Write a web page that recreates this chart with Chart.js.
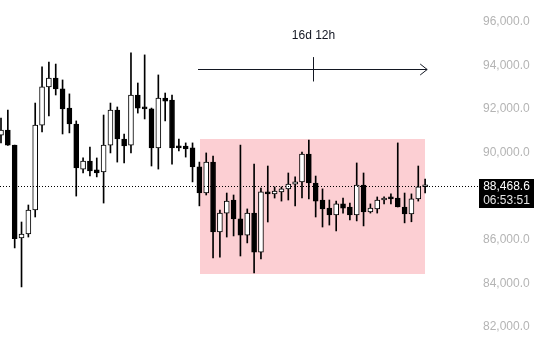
<!DOCTYPE html>
<html><head><meta charset="utf-8">
<script src="https://cdn.jsdelivr.net/npm/chart.js@4/dist/chart.umd.min.js"></script>
<style>html,body{margin:0;padding:0;background:#fff;overflow:hidden}canvas{display:block}</style>
</head><body>
<canvas id="c" width="544" height="342"></canvas>
<script>
const opens  = [90810,91040,90350,86090,86270,87370,91270,93020,93430,92930,92050,91320,89250,89620,89210,89120,90350,91960,90630,90350,92650,92100,92010,90220,92510,92420,90310,90310,90220,89350,88150,89570,86360,87230,87830,86960,86220,87230,85440,88200,88110,88200,88340,88560,88660,89940,88610,87830,87460,87140,87650,87510,87140,88520,87280,87420,87830,87920,87920,87510,87190,87880,88440];
const highs  = [91590,91960,90350,86820,87600,92280,93940,94160,94070,93340,92700,91460,89760,90260,89760,91730,92280,92100,90860,94580,93200,94490,92050,93570,92740,92650,90630,90450,90450,89570,89990,89850,87370,88150,88060,90350,87420,89480,88380,89390,88430,88430,89070,88890,90030,90580,88930,88340,87830,87780,87920,87690,89530,89070,87650,87970,87970,88110,90450,88150,88110,89390,88790];
const lows   = [90450,90340,85630,83840,86130,87050,90950,91690,92650,90860,90910,88010,89070,88930,88890,87690,89990,89570,89530,89990,91820,91550,89390,89250,91460,89480,90080,89800,88660,87560,88060,85170,85210,86130,86180,85260,85860,84480,85120,86820,87920,87780,87830,87560,87920,87880,87050,86590,86680,86410,87230,86910,86870,86640,87230,87230,87650,87650,87510,86780,86830,87780,88150];
const closes = [91040,90350,86050,86270,87370,91270,93020,93430,92930,92010,91320,89300,89620,89160,89070,90350,91960,90630,90310,92650,92050,92010,90220,92510,92370,90220,90220,90170,89350,88150,89570,86360,87230,87780,86960,86220,87230,85440,88200,88110,88240,88340,88560,88660,89940,88610,87780,87420,87140,87650,87460,87140,88520,87280,87460,87830,87880,87880,87510,87190,87880,88440,88468.6];
const yTicks = [82000,84000,86000,88000,90000,92000,94000,96000];
const lastPrice = 88468.6;
const countdown = '06:53:51';
const rangeLabel = '16d 12h';
const rangeBox = {x0:29.1, x1:62.0, top:90630, bottom:84430};
const arrow = {x0:28.8, x1:62.3, y:93830, mid:45.6, tickTop:94390, tickBottom:93270, textY:95380};

const idx = opens.map((_, i) => i);
const isBull = i => closes[i] >= opens[i];
const fmt = v => v.toLocaleString('en-US', {minimumFractionDigits:1, maximumFractionDigits:1});

const overlay = {
  id: 'overlay',
  beforeDatasetsDraw(chart) {
    const {ctx, scales:{x, y}} = chart;
    ctx.save();
    ctx.fillStyle = '#fccfd3';
    const l = x.getPixelForValue(rangeBox.x0), r = x.getPixelForValue(rangeBox.x1);
    const t = y.getPixelForValue(rangeBox.top), b = y.getPixelForValue(rangeBox.bottom);
    ctx.fillRect(Math.round(l), Math.round(t), Math.round(r - l), Math.round(b - t));
    ctx.restore();
  },
  afterDatasetsDraw(chart) {
    const {ctx, chartArea, scales:{x, y}} = chart;
    ctx.save();
    const py = Math.round(y.getPixelForValue(lastPrice)) + 0.5;
    ctx.strokeStyle = '#000';
    ctx.lineWidth = 1;
    ctx.setLineDash([1, 2]);
    ctx.beginPath(); ctx.moveTo(0, py); ctx.lineTo(chartArea.right, py); ctx.stroke();
    ctx.setLineDash([]);
    const ay = Math.round(y.getPixelForValue(arrow.y)) + 0.5;
    const ax0 = x.getPixelForValue(arrow.x0), ax1 = x.getPixelForValue(arrow.x1);
    const am = Math.round(x.getPixelForValue(arrow.mid)) + 0.5;
    ctx.strokeStyle = '#131722';
    ctx.beginPath(); ctx.moveTo(ax0, ay); ctx.lineTo(ax1, ay); ctx.stroke();
    ctx.beginPath(); ctx.moveTo(ax1 - 7, ay - 5.5); ctx.lineTo(ax1, ay); ctx.lineTo(ax1 - 7, ay + 5.5); ctx.stroke();
    ctx.beginPath(); ctx.moveTo(am, y.getPixelForValue(arrow.tickTop)); ctx.lineTo(am, y.getPixelForValue(arrow.tickBottom)); ctx.stroke();
    ctx.fillStyle = '#131722';
    ctx.font = '12px "Liberation Sans", Arial, sans-serif';
    ctx.textAlign = 'center'; ctx.textBaseline = 'middle';
    ctx.fillText(rangeLabel, am, y.getPixelForValue(arrow.textY));
    ctx.restore();
  },
  afterDraw(chart) {
    const {ctx, chartArea, scales:{y}} = chart;
    const py = Math.round(y.getPixelForValue(lastPrice));
    ctx.save();
    const bx = chartArea.right + 1, bw = 55;
    ctx.fillStyle = '#000';
    ctx.fillRect(bx, py - 7, bw, 29);
    ctx.font = '12px "Liberation Sans", Arial, sans-serif';
    ctx.textAlign = 'center'; ctx.textBaseline = 'middle';
    ctx.fillStyle = '#ffffff';
    ctx.fillText(fmt(lastPrice), bx + bw / 2, py + 0.5);
    ctx.fillStyle = '#e6e6e6';
    ctx.fillText(countdown, bx + bw / 2, py + 15);
    ctx.restore();
  }
};

new Chart(document.getElementById('c'), {
  type: 'bar',
  data: {
    datasets: [
      {
        label: 'wick',
        order: 2,
        data: idx.map(i => ({x: i, y: [lows[i], highs[i]]})),
        backgroundColor: '#000',
        borderWidth: 0,
        barThickness: 1,
        grouped: false
      },
      {
        label: 'body',
        order: 1,
        data: idx.map(i => ({x: i, y: [opens[i], closes[i]]})),
        backgroundColor: ctx => isBull(ctx.dataIndex) ? '#ffffff' : '#000000',
        borderColor: '#000',
        borderWidth: 1,
        borderSkipped: false,
        barThickness: 5,
        minBarLength: 2,
        grouped: false
      }
    ]
  },
  options: {
    responsive: false,
    animation: false,
    layout: {padding: 0, autoPadding: false},
    plugins: {legend: {display: false}, tooltip: {enabled: false}},
    scales: {
      x: {type: 'linear', min: -0.146, max: 69.73, offset: false, display: false},
      y: {
        position: 'right',
        min: 81312, max: 97010,
        grid: {display: false, drawTicks: false},
        border: {display: false},
        afterBuildTicks: s => { s.ticks = yTicks.map(v => ({value: v})); },
        afterFit: s => { s.width = 66; s.paddingTop = 0; s.paddingBottom = 0; },
        ticks: {
          padding: 5,
          color: '#b4b4b4',
          font: {family: '"Liberation Sans", Arial, sans-serif', size: 12},
          callback: v => fmt(v)
        }
      }
    }
  },
  plugins: [overlay]
});
</script>
</body></html>
